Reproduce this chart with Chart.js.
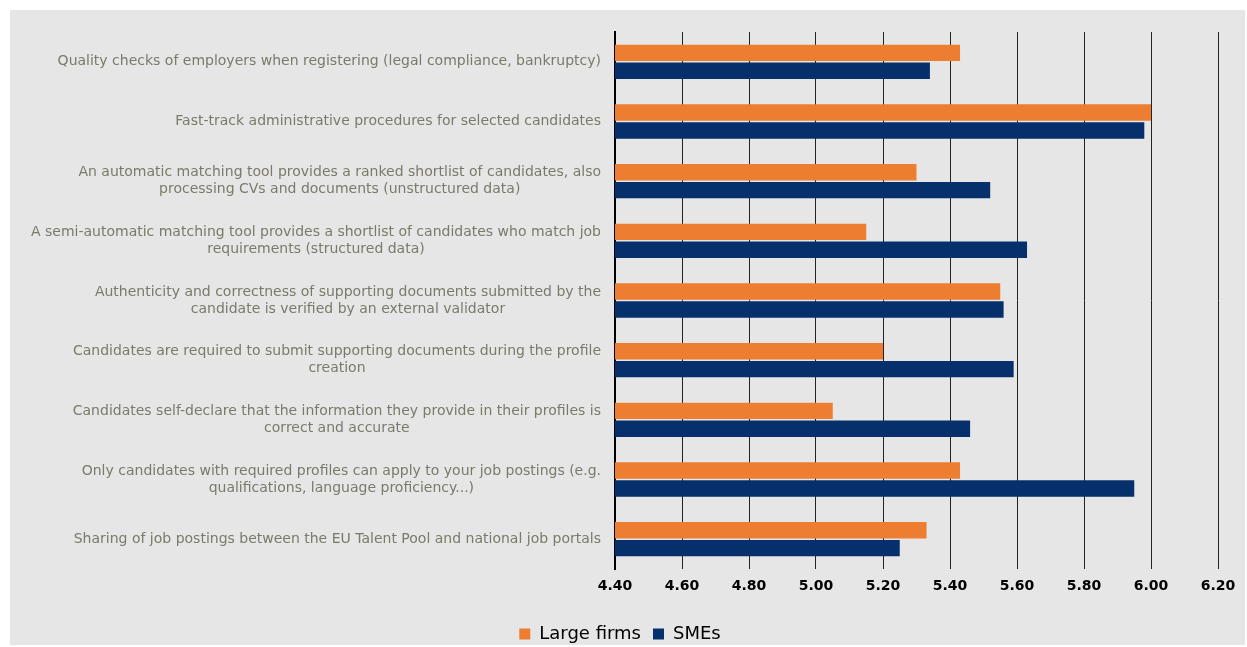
<!DOCTYPE html>
<html>
<head>
<meta charset="utf-8">
<script src="https://cdn.jsdelivr.net/npm/chart.js@4"></script>
<style>
    html, body { margin: 0; padding: 0; background: #ffffff; }
    #wrap { position: absolute; left: 0; top: 0; width: 1247px; height: 647px; }
</style>
</head>
<body>
<div id="wrap"><canvas id="chart"></canvas></div>
<script>
// Categories (multi-line labels as arrays)
const categories = [
    ['Quality checks of employers when registering (legal compliance, bankruptcy)'],
    ['Fast-track administrative procedures for selected candidates'],
    ['An automatic matching tool provides a ranked shortlist of candidates, also', 'processing CVs and documents (unstructured data)'],
    ['A semi-automatic matching tool provides a shortlist of candidates who match job', 'requirements (structured data)'],
    ['Authenticity and correctness of supporting documents submitted by the', 'candidate is verified by an external validator'],
    ['Candidates are required to submit supporting documents during the profile', 'creation'],
    ['Candidates self-declare that the information they provide in their profiles is', 'correct and accurate'],
    ['Only candidates with required profiles can apply to your job postings (e.g.', 'qualifications, language proficiency...)'],
    ['Sharing of job postings between the EU Talent Pool and national job portals']
];

const largeFirms = [5.43, 6.00, 5.30, 5.15, 5.55, 5.20, 5.05, 5.43, 5.33];
const smes = [5.34, 5.98, 5.52, 5.63, 5.56, 5.59, 5.46, 5.95, 5.25];

const axisMin = 4.4;
const axisMax = 6.2;
const axisStep = 0.2;

const fontFamily = '"DejaVu Sans", Verdana, sans-serif';
const labelFont = '14px ' + fontFamily;
const labelColor = '#7a7a6a';

// Gray panel with a white frame
const panelPlugin = {
    id: 'panel',
    beforeDraw: (chart) => {
        const ctx = chart.ctx;
        ctx.save();
        ctx.fillStyle = '#ffffff';
        ctx.fillRect(0, 0, chart.width, chart.height);
        ctx.fillStyle = '#e6e6e6';
        ctx.fillRect(10, 10, chart.width - 12, chart.height - 12);
        ctx.restore();
    }
};

// Draw y labels: block right-aligned, lines centred within the block
const yLabelPlugin = {
    id: 'yLabels',
    afterDraw: (chart) => {
        const ctx = chart.ctx;
        const scale = chart.scales.y;
        const lineHeight = 17;
        const right = scale.right - 14;
        ctx.save();
        ctx.font = labelFont;
        ctx.fillStyle = labelColor;
        ctx.textAlign = 'center';
        ctx.textBaseline = 'middle';
        chart.data.labels.forEach((lines, i) => {
            const y = scale.getPixelForTick(i);
            const maxW = Math.max(...lines.map(l => ctx.measureText(l).width));
            const cx = right - maxW / 2;
            const top = y - (lines.length - 1) * lineHeight / 2;
            lines.forEach((line, j) => {
                ctx.fillText(line, cx, top + j * lineHeight);
            });
        });
        ctx.restore();
    }
};

new Chart(document.getElementById('chart'), {
    type: 'bar',
    data: {
        labels: categories,
        datasets: [
            {
                label: 'Large firms',
                data: largeFirms,
                backgroundColor: '#ed7d31',
                categoryPercentage: 0.6,
                barPercentage: 0.92
            },
            {
                label: 'SMEs',
                data: smes,
                backgroundColor: '#05306b',
                categoryPercentage: 0.6,
                barPercentage: 0.92
            }
        ]
    },
    options: {
        indexAxis: 'y',
        responsive: true,
        maintainAspectRatio: false,
        animation: false,
        layout: {
            padding: { left: 22, right: 29, top: 32, bottom: -6 }
        },
        scales: {
            x: {
                min: axisMin,
                max: axisMax,
                grid: {
                    color: '#222222',
                    lineWidth: 1,
                    drawTicks: false
                },
                border: { display: false },
                ticks: {
                    stepSize: axisStep,
                    padding: 9,
                    color: '#000000',
                    font: { family: fontFamily, size: 14, weight: 'bold' },
                    callback: (v) => Number(v).toFixed(2)
                },
                afterFit: (s) => { s.height = 44; }
            },
            y: {
                grid: { display: false, drawTicks: false },
                border: { display: true, color: '#000000', width: 2 },
                ticks: {
                    color: 'transparent',
                    font: { family: fontFamily, size: 14 }
                },
                afterFit: (s) => { s.width = 593; }
            }
        },
        plugins: {
            legend: {
                position: 'bottom',
                labels: {
                    boxWidth: 11,
                    boxHeight: 11,
                    padding: 12,
                    color: '#000000',
                    font: { family: fontFamily, size: 18 }
                }
            },
            tooltip: { enabled: false }
        }
    },
    plugins: [panelPlugin, yLabelPlugin]
});
</script>
</body>
</html>
